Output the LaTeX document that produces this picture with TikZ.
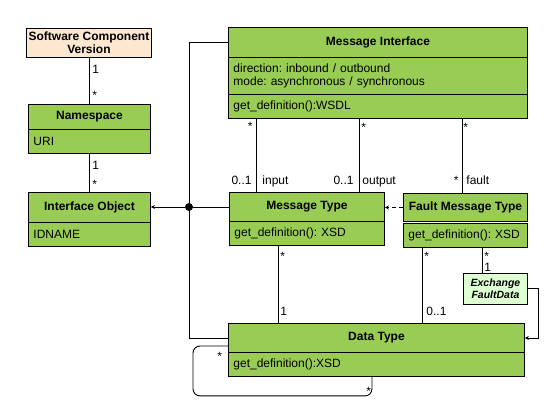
\documentclass[tikz,border=0pt]{standalone}
\usepackage{fontspec}
\setmainfont{Liberation Sans}
\usetikzlibrary{calc,arrows.meta}
\definecolor{umlgreen}{RGB}{153,204,85}
\definecolor{peach}{RGB}{252,232,208}
\definecolor{palegreen}{RGB}{222,255,210}
\frenchspacing
\begin{document}
\begin{tikzpicture}[x=1pt,y=-1pt,line width=0.9pt,
  font=\fontsize{12}{13}\selectfont,
  hdr/.style={draw, fill=umlgreen, anchor=north west, inner sep=0pt, align=center,
              font=\fontsize{12}{13}\selectfont\bfseries},
  cmp/.style={draw, fill=umlgreen, anchor=north west, inner xsep=5pt, inner ysep=0pt, align=left},
  lbl/.style={inner sep=0pt},
  tip/.style={-{Stealth[length=4pt,width=4pt]}}]
\useasboundingbox[fill=white] (0,0) rectangle (559,419);

% classes
\node[hdr, minimum width=125pt, minimum height=29pt, fill=peach] (scv) at (26,28) {Software Component\\Version};
\node[hdr, minimum width=122pt, minimum height=25pt] (ns) at (28,104) {Namespace};
\node[cmp, text width=112pt, minimum height=24pt] (nsa) at (28,129) {URI};
\node[hdr, minimum width=122pt, minimum height=30pt] (io) at (28,192) {Interface Object};
\node[cmp, text width=112pt, minimum height=24pt] (ioa) at (28,222) {IDNAME};
\node[hdr, minimum width=299pt, minimum height=30pt] (mi) at (228,27) {Message Interface};
\node[cmp, text width=289pt, minimum height=37pt] (mia) at (228,57) {direction: inbound / outbound\\mode: asynchronous / synchronous};
\node[cmp, text width=289pt, minimum height=24pt] (mio) at (228,94) {get\_definition():WSDL};
\node[hdr, minimum width=155pt, minimum height=29pt] (mt) at (229,192) {Message Type};
\node[cmp, text width=145pt, minimum height=24pt] (mto) at (229,221) {get\_definition(): XSD};
\node[hdr, minimum width=124pt, minimum height=28pt] (fmt) at (403,193) {Fault Message Type};
\node[cmp, text width=114pt, minimum height=24pt] (fmto) at (403,223) {get\_definition(): XSD};
\node[hdr, minimum width=64pt, minimum height=31pt, fill=palegreen,
      font=\fontsize{10.5}{12}\selectfont\bfseries\itshape] (efd) at (463,273) {Exchange\\FaultData};
\node[hdr, minimum width=296pt, minimum height=29pt] (dt) at (228,323) {Data Type};
\node[cmp, text width=286pt, minimum height=24pt] (dto) at (228,352) {get\_definition():XSD};

% left column associations
\draw (scv.south) -- (scv.south |- ns.north);
\node[lbl, anchor=base west] (l1) at (92,74) {1};
\node[lbl, anchor=base west] (l2) at (92,100) {*};
\draw (nsa.south) -- (nsa.south |- io.north);
\node[lbl, anchor=base west] (l3) at (92,170) {1};
\node[lbl, anchor=base west] (l4) at (92,189) {*};

% generalization junction
\node[circle, fill=black, inner sep=0pt, minimum size=8pt] (j) at (189,207) {};
\draw[tip] (j) -- (j -| io.east);
\draw (j -| mt.west) -- (j);
\draw (j) |- (mi.west);
\draw (j) |- (dt.west);

% message interface to message types
\draw ($(mio.south west)+(28,0)$) -- ($(mt.north west)+(27,0)$);
\draw ($(mio.south west)+(131,0)$) -- ($(mt.north west)+(130,0)$);
\draw ($(mio.south west)+(234,0)$) -- ($(fmt.north west)+(59,0)$);
\node[lbl, anchor=base east] (l5) at (253,131) {*};
\node[lbl, anchor=base east] (l6) at (252,185) {0..1};
\node[lbl, anchor=base west] (l7) at (262,185) {input};
\node[lbl, anchor=base west] (l8) at (361,132) {*};
\node[lbl, anchor=base east] (l9) at (354,185) {0..1};
\node[lbl, anchor=base west] (l10) at (362,185) {output};
\node[lbl, anchor=base west] (l11) at (463,132) {*};
\node[lbl, anchor=base east] (l12) at (459,185) {*};
\node[lbl, anchor=base west] (l13) at (466,185) {fault};

% fault message type dependency
\draw[dash pattern=on 4pt off 3pt, tip] (fmt.west) -- (fmt.west -| mt.east);

% to data type
\draw ($(mto.south west)+(49,0)$) -- ($(dt.north west)+(50,0)$);
\draw ($(fmto.south west)+(19,0)$) -- ($(dt.north west)+(194,0)$);
\draw ($(fmto.south west)+(79,0)$) -- ($(efd.north west)+(19,0)$);
\node[lbl, anchor=base west] (l14) at (280,261) {*};
\node[lbl, anchor=base west] (l15) at (280,316) {1};
\node[lbl, anchor=base west] (l16) at (424,261) {*};
\node[lbl, anchor=base west] (l17) at (426,316) {0..1};
\node[lbl, anchor=base west] (l18) at (484,261) {*};
\node[lbl, anchor=base west] (l19) at (484,272) {1};

% exchange fault data to data type
\coordinate (c1) at ($(dt.east)+(14,0)$);
\draw[tip] (efd.east) -| (c1) -- (dt.east);

% self association
\draw[rounded corners=7pt] ($(dt.north west)+(0,23)$) -- ++(-35,0) |- ($(dto.south west)+(144,19)$) -- ($(dto.south west)+(144,0)$);
\node[lbl, anchor=base west] (l20) at (217,360) {*};
\node[lbl, anchor=base west] (l21) at (366,395) {*};
\end{tikzpicture}
\end{document}
